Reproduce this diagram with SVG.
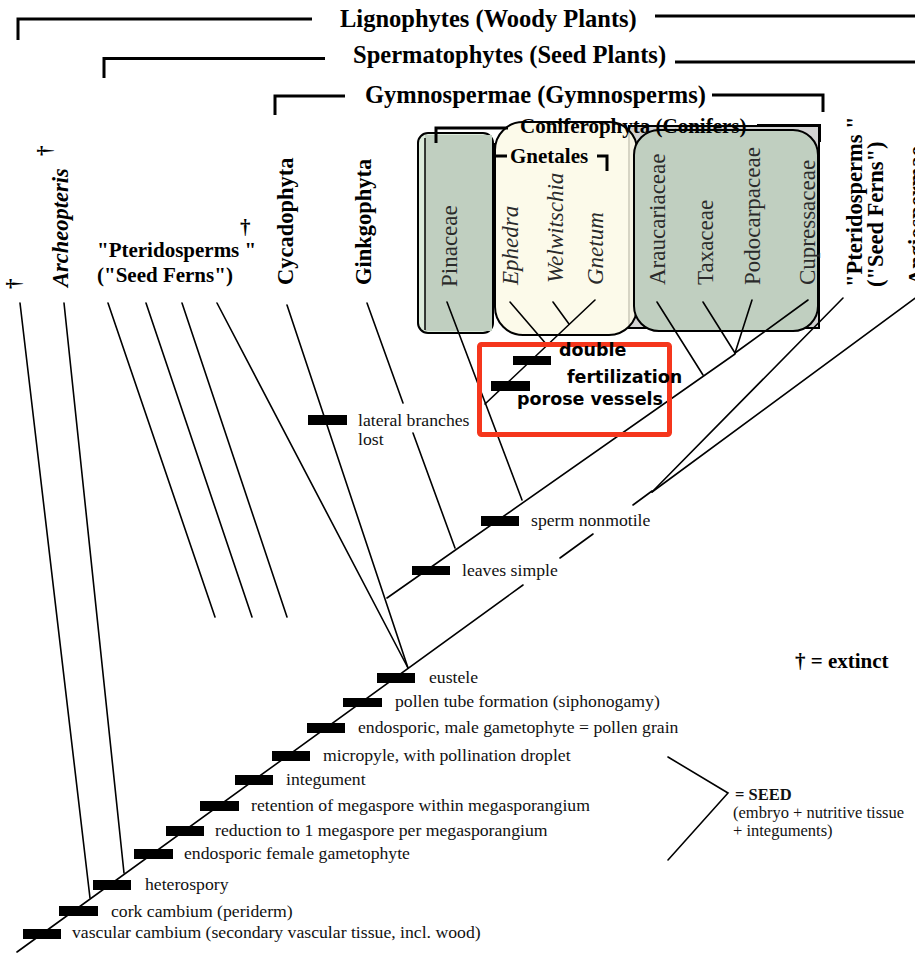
<svg xmlns="http://www.w3.org/2000/svg" width="915" height="953" viewBox="0 0 915 953">
<style>
.ln{stroke:#000;stroke-width:1.6;fill:none;stroke-linecap:round}
.br{stroke:#000;stroke-width:3;fill:none}
.bar{fill:#000}
.lab{font-family:"Liberation Serif","Times New Roman",serif;font-size:17.7px;fill:#111}
.leg{font-family:"Liberation Serif","Times New Roman",serif;font-size:16.5px;fill:#111}
.hd{font-family:"Liberation Serif","Times New Roman",serif;font-weight:bold;font-size:24.5px;fill:#000}
.tx{font-family:"Liberation Serif","Times New Roman",serif;font-weight:bold;font-size:22.5px;fill:#000}
.sub{font-family:"Liberation Serif","Times New Roman",serif;font-weight:bold;font-size:21px;fill:#000}
.fam{font-family:"Liberation Serif","Times New Roman",serif;font-size:23px;fill:#2a2a2a}
.gen{font-family:"Liberation Serif","Times New Roman",serif;font-size:23px;font-style:italic;fill:#2a2a2a}
.red{font-family:"DejaVu Sans",sans-serif;font-weight:bold;font-size:17.5px;fill:#000}
.box{stroke:#000;stroke-width:2}
</style>
<rect width="915" height="953" fill="#fff"/>

<g id="brackets">
  <path class="br" d="M18,40 V19 H312"/>
  <path class="br" d="M655,16 H915"/>
  <path class="br" d="M104,78 V58.5 H325"/>
  <path class="br" d="M675,62 H915"/>
  <path class="br" d="M275,115 V96 H345"/>
  <path class="br" d="M712,95 H823 V112"/>
</g>
<g id="headers">
  <text class="hd" x="340" y="27">Lignophytes (Woody Plants)</text>
  <text class="hd" x="353" y="63">Spermatophytes (Seed Plants)</text>
  <text class="hd" x="365" y="103">Gymnospermae (Gymnosperms)</text>
</g>

<g id="boxes">
  <rect class="box" x="629" y="126" width="190" height="202" fill="#d3d3d3"/>
  <rect class="box" x="418" y="133" width="75" height="200" rx="10" fill="#dcebdb"/>
  <rect x="425" y="135" width="67" height="196" fill="#c0cfc0"/>
  <line x1="425" y1="138" x2="425" y2="330" stroke="#000" stroke-width="1.5"/>
  <rect class="box" x="495" y="122" width="142" height="213" rx="28" fill="#fcf9e6" fill-opacity="0.85"/>
  <rect class="box" x="634" y="130" width="184" height="201" rx="25" fill="#c0cfc0"/>
</g>

<g id="conifer-brackets">
  <path class="br" d="M436,143 V128 H508"/>
  <path class="br" d="M757,125.5 H819.5 V142"/>
  <path class="br" d="M494.5,143 V172 M494.5,156 H507"/>
  <path class="br" d="M597,156 H607 V171"/>
  <text class="sub" x="520" y="133">Coniferophyta (Conifers)</text>
  <text class="sub" x="510" y="163">Gnetales</text>
</g>

<g id="connectors">
  <path class="ln" d="M17,952 L523,585"/>
  <path class="ln" d="M560,558 L593,534"/>
  <path class="ln" d="M633,505 L652,491"/>
  <path class="ln" d="M843,298 L652,492"/>
  <path class="ln" d="M925,291 L652,492"/>
  <path class="ln" d="M20,303 L90,898"/>
  <path class="ln" d="M64,303 L124,873"/>
  <path class="ln" d="M108,303 L215,617"/>
  <path class="ln" d="M146,303 L252,617"/>
  <path class="ln" d="M182,303 L287,617"/>
  <path class="ln" d="M217,303 L408,668"/>
  <path class="ln" d="M287,305 L408,668"/>
  <path class="ln" d="M387,598 L735,354"/>
  <path class="ln" d="M367,303 L403,403"/>
  <path class="ln" d="M413,433 L455,548"/>
  <path class="ln" d="M447,302 L522,500"/>
  <path class="ln" d="M595,300 L485,404"/>
  <path class="ln" d="M510,302 L547,345"/>
  <path class="ln" d="M553,302 L569,324"/>
  <path class="ln" d="M657,302 L703,375"/>
  <path class="ln" d="M703,302 L735,353"/>
  <path class="ln" d="M752,300 L735,353"/>
  <path class="ln" d="M808,300 L735,353"/>
  <path class="ln" d="M668,757 L728,793 L668,860" stroke-width="1.8"/>
</g>

<g id="bars">
  <rect class="bar" x="308" y="415" width="39" height="10"/>
  <rect class="bar" x="412" y="566" width="38" height="9"/>
  <rect class="bar" x="481" y="516" width="38" height="10"/>
  <rect class="bar" x="513" y="356" width="38" height="9"/>
  <rect class="bar" x="491" y="381" width="39" height="10"/>
  <rect class="bar" x="377" y="673" width="38" height="10"/>
  <rect class="bar" x="343" y="698" width="39" height="9"/>
  <rect class="bar" x="307" y="723" width="38" height="10"/>
  <rect class="bar" x="272" y="751" width="38" height="10"/>
  <rect class="bar" x="235" y="775" width="38" height="10"/>
  <rect class="bar" x="200" y="801" width="39" height="10"/>
  <rect class="bar" x="166" y="826" width="38" height="10"/>
  <rect class="bar" x="134" y="849" width="39" height="10"/>
  <rect class="bar" x="93" y="880" width="38" height="10"/>
  <rect class="bar" x="59" y="906" width="39" height="10"/>
  <rect class="bar" x="23" y="929" width="38" height="10"/>
</g>

<g id="characters">
  <text class="lab" x="358" y="426">lateral branches</text>
  <text class="lab" x="358" y="445">lost</text>
  <text class="lab" x="462" y="576">leaves simple</text>
  <text class="lab" x="531" y="526">sperm nonmotile</text>
  <text class="lab" x="429" y="683">eustele</text>
  <text class="lab" x="395" y="707">pollen tube formation (siphonogamy)</text>
  <text class="lab" x="358" y="733">endosporic, male gametophyte = pollen grain</text>
  <text class="lab" x="323" y="761">micropyle, with pollination droplet</text>
  <text class="lab" x="286" y="785">integument</text>
  <text class="lab" x="251" y="811">retention of megaspore within megasporangium</text>
  <text class="lab" x="215" y="836">reduction to 1 megaspore per megasporangium</text>
  <text class="lab" x="184" y="859">endosporic female gametophyte</text>
  <text class="lab" x="145" y="890">heterospory</text>
  <text class="lab" x="111" y="917">cork cambium (periderm)</text>
  <text class="lab" x="72" y="938">vascular cambium (secondary vascular tissue, incl. wood)</text>
</g>

<g id="taxa">
  <text class="sub" transform="translate(21,289) rotate(-90)">†</text>
  <text class="sub" transform="translate(52,156) rotate(-90)">†</text>
  <text class="tx" font-style="italic" transform="translate(68,287) rotate(-90)">Archeopteris</text>
  <text class="sub" x="97" y="257">"Pteridosperms "</text>
  <text class="sub" x="97" y="282">("Seed Ferns")</text>
  <text class="sub" font-size="18" x="240" y="234">†</text>
  <text class="tx" transform="translate(293,285) rotate(-90)">Cycadophyta</text>
  <text class="tx" transform="translate(371,285) rotate(-90)">Ginkgophyta</text>
  <text class="fam" transform="translate(457,287) rotate(-90)">Pinaceae</text>
  <text class="gen" transform="translate(518,285) rotate(-90)">Ephedra</text>
  <text class="gen" transform="translate(563,283) rotate(-90)">Welwitschia</text>
  <text class="gen" transform="translate(603,285) rotate(-90)">Gnetum</text>
  <text class="fam" transform="translate(665,285) rotate(-90)">Araucariaceae</text>
  <text class="fam" transform="translate(713,285) rotate(-90)">Taxaceae</text>
  <text class="fam" transform="translate(760,285) rotate(-90)">Podocarpaceae</text>
  <text class="fam" transform="translate(815,285) rotate(-90)">Cupressaceae</text>
  <text class="tx" transform="translate(862,287) rotate(-90)">"Pteridosperms "</text>
  <text class="tx" transform="translate(883,287) rotate(-90)">("Seed Ferns")</text>
  <text class="tx" transform="translate(924,285) rotate(-90)">Angiospermae</text>
</g>

<g id="highlight">
  <rect x="479.5" y="344.5" width="190" height="90" rx="2" fill="none" stroke="#f5361c" stroke-width="5"/>
  <text class="red" x="559" y="356">double</text>
  <text class="red" x="567" y="383">fertilization</text>
  <text class="red" x="517" y="405">porose vessels</text>
</g>

<g id="legend">
  <text class="sub" x="795" y="668">† = extinct</text>
  <text class="leg" font-weight="bold" font-size="17.5" x="735" y="800">= SEED</text>
  <text class="leg" x="733" y="818">(embryo + nutritive tissue</text>
  <text class="leg" x="733" y="836">+ integuments)</text>
</g>
</svg>
